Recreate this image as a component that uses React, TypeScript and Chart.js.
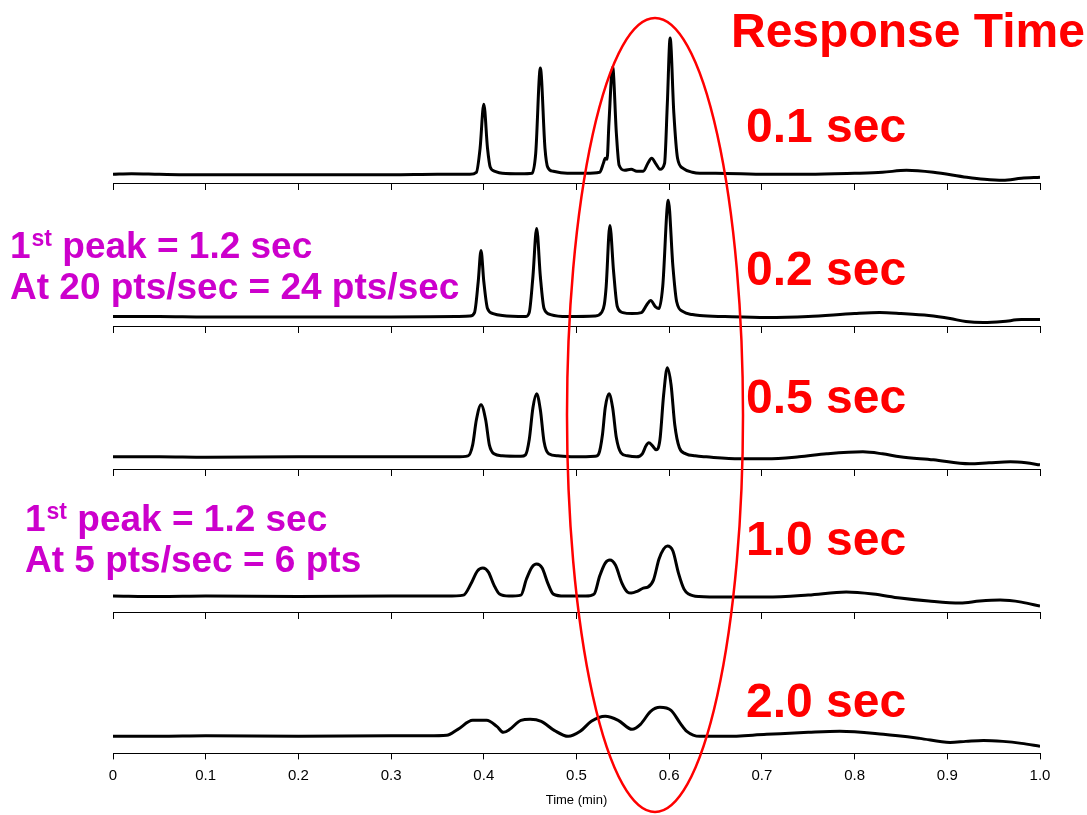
import React, { useEffect, useRef } from "react";
import { Chart, registerables } from "chart.js";

Chart.register(...registerables);

// ---------- data ----------
const TIME_TICKS = [0, 0.1, 0.2, 0.3, 0.4, 0.5, 0.6, 0.7, 0.8, 0.9, 1.0];
const TICK_LABELS = ["0", "0.1", "0.2", "0.3", "0.4", "0.5", "0.6", "0.7", "0.8", "0.9", "1.0"];
const X_TITLE = "Time (min)";

// [time (min), signal] — signal measured above each trace's own axis
const TRACE_0_1: [number, number][] = [
  [0, 9], [0.02, 9.5], [0.05, 9], [0.1, 8.5], [0.2, 8.5], [0.3, 8.5], [0.35, 9], [0.385, 9],
  [0.392, 11], [0.396, 35], [0.4, 79], [0.404, 35], [0.407, 16], [0.412, 12], [0.42, 10],
  [0.44, 9.5], [0.452, 10], [0.456, 30], [0.461, 115], [0.466, 35], [0.469, 16], [0.475, 12],
  [0.49, 10], [0.51, 10], [0.525, 11], [0.529, 20], [0.531, 25], [0.533, 24], [0.535, 60],
  [0.539, 116], [0.543, 50], [0.546, 18], [0.552, 13], [0.559, 14], [0.565, 12], [0.572, 12],
  [0.577, 20], [0.581, 25], [0.586, 19], [0.59, 14], [0.595, 20], [0.598, 80], [0.601, 145],
  [0.605, 70], [0.609, 25], [0.615, 15], [0.625, 11], [0.633, 10], [0.65, 10], [0.705, 9],
  [0.75, 9], [0.8, 10], [0.83, 11], [0.856, 13], [0.885, 11], [0.921, 6], [0.94, 4],
  [0.96, 3], [0.98, 5], [1.0, 6],
];
const TRACE_0_2: [number, number][] = [
  [0, 10], [0.05, 10], [0.1, 9.5], [0.2, 9.5], [0.3, 9.5], [0.37, 10], [0.385, 10.5],
  [0.39, 14], [0.394, 45], [0.397, 76], [0.4, 45], [0.404, 18], [0.41, 13], [0.42, 11],
  [0.445, 10], [0.449, 14], [0.453, 50], [0.457, 98], [0.461, 50], [0.465, 18], [0.472, 12],
  [0.49, 10], [0.52, 10.5], [0.527, 14], [0.53, 22], [0.532, 40], [0.536, 101], [0.54, 55],
  [0.544, 20], [0.55, 14], [0.56, 13], [0.57, 14], [0.576, 22], [0.58, 26], [0.585, 20],
  [0.589, 18], [0.593, 40], [0.599, 126], [0.604, 60], [0.608, 25], [0.615, 15], [0.625, 12],
  [0.633, 11], [0.66, 10], [0.705, 9], [0.75, 10], [0.8, 13], [0.827, 14], [0.85, 13],
  [0.88, 11], [0.903, 8], [0.92, 5], [0.939, 4], [0.96, 5], [0.98, 7], [1.0, 7],
];
const TRACE_0_5: [number, number][] = [
  [0, 13], [0.05, 13], [0.1, 12.5], [0.2, 13], [0.3, 13], [0.37, 13], [0.383, 14], [0.388, 25],
  [0.392, 50], [0.397, 65], [0.402, 50], [0.406, 25], [0.411, 16], [0.42, 14], [0.44, 13.5],
  [0.445, 15], [0.449, 30], [0.453, 62], [0.457, 76], [0.461, 60], [0.465, 28], [0.47, 16],
  [0.48, 14], [0.5, 13], [0.52, 13.5], [0.524, 16], [0.528, 35], [0.531, 62], [0.535, 76],
  [0.539, 62], [0.543, 32], [0.548, 17], [0.555, 14], [0.565, 13], [0.571, 16], [0.575, 24],
  [0.578, 27], [0.582, 24], [0.586, 20], [0.59, 30], [0.594, 75], [0.598, 102], [0.602, 85],
  [0.606, 45], [0.611, 22], [0.618, 16], [0.628, 14], [0.64, 13], [0.676, 11], [0.705, 11],
  [0.74, 13], [0.77, 16], [0.809, 18], [0.83, 16], [0.849, 13], [0.885, 10], [0.924, 6],
  [0.945, 7], [0.968, 8], [0.985, 7], [1.0, 5],
];
const TRACE_1_0: [number, number][] = [
  [0, 16], [0.05, 15.5], [0.1, 16], [0.2, 15.5], [0.3, 16], [0.36, 16], [0.378, 17], [0.386, 28],
  [0.393, 41], [0.399, 44], [0.405, 40], [0.411, 27], [0.417, 18], [0.427, 16], [0.44, 17],
  [0.446, 33], [0.452, 45], [0.457, 48], [0.463, 44], [0.469, 29], [0.475, 18], [0.487, 16],
  [0.51, 16], [0.519, 18], [0.525, 36], [0.531, 49], [0.536, 52], [0.542, 47], [0.549, 29],
  [0.555, 20], [0.559, 19], [0.566, 21], [0.572, 24], [0.577, 25], [0.583, 32], [0.589, 53],
  [0.594, 63], [0.598, 66], [0.604, 61], [0.61, 39], [0.616, 23], [0.621, 18], [0.632, 15.5],
  [0.66, 15], [0.705, 15], [0.75, 17], [0.791, 20], [0.82, 18], [0.849, 14], [0.88, 11],
  [0.914, 9], [0.935, 11], [0.957, 12], [0.98, 10], [1.0, 6],
];
const TRACE_2_0: [number, number][] = [
  [0, 17], [0.05, 17], [0.1, 17.5], [0.2, 17], [0.3, 17.5], [0.34, 17.5], [0.36, 18],
  [0.372, 24], [0.388, 33], [0.403, 33], [0.414, 27], [0.421, 21], [0.428, 24], [0.44, 33],
  [0.45, 34], [0.462, 32], [0.476, 23], [0.491, 17], [0.504, 22], [0.516, 32], [0.531, 37],
  [0.545, 33], [0.56, 24], [0.569, 29], [0.58, 42], [0.59, 46], [0.602, 43], [0.612, 30],
  [0.619, 22], [0.633, 17], [0.66, 17], [0.705, 19], [0.75, 21], [0.784, 22], [0.831, 19],
  [0.87, 15], [0.903, 11], [0.92, 12], [0.939, 13], [0.96, 12], [0.98, 10], [1.0, 7],
];

const TRACES = [TRACE_0_1, TRACE_0_2, TRACE_0_5, TRACE_1_0, TRACE_2_0];
const RESPONSE_TITLE = "Response Time";
const RESPONSE_LABELS = ["0.1 sec", "0.2 sec", "0.5 sec", "1.0 sec", "2.0 sec"];
const NOTE_TOP = { lead: "1", sup: "st", rest: " peak = 1.2 sec", line2: "At 20 pts/sec = 24 pts/sec" };
const NOTE_BOTTOM = { lead: "1", sup: "st", rest: " peak = 1.2 sec", line2: "At 5 pts/sec = 6 pts" };

// ---------- layout ----------
const W = 1087;
const H = 815;
const PANEL_BASE = [569, 426, 283, 141, 0]; // y-value of each trace's axis line
const Y_MAX = 742;
const FONT = "'Liberation Sans', Arial, Helvetica, sans-serif";
const RED = "#ff0000";
const MAGENTA = "#cc00cc";
const LABEL_X = 746;
const LABEL_BASELINES = [142, 285, 413, 555, 717];

const overlayPlugin = {
  id: "overlay",
  afterDraw(chart: any) {
    const ctx = chart.ctx as CanvasRenderingContext2D;
    ctx.save();
    // red ellipse
    ctx.beginPath();
    ctx.ellipse(655, 415, 88, 397, 0, 0, Math.PI * 2);
    ctx.strokeStyle = RED;
    ctx.lineWidth = 2.5;
    ctx.stroke();

    ctx.textBaseline = "alphabetic";
    ctx.textAlign = "left";
    ctx.fillStyle = RED;
    ctx.font = `bold 48px ${FONT}`;
    ctx.fillText(RESPONSE_TITLE, 731, 47);
    RESPONSE_LABELS.forEach((t, i) => ctx.fillText(t, LABEL_X, LABEL_BASELINES[i]));

    const drawNote = (note: any, x: number, y1: number, y2: number) => {
      ctx.fillStyle = MAGENTA;
      ctx.font = `bold 37px ${FONT}`;
      ctx.fillText(note.lead, x, y1);
      let cx = x + ctx.measureText(note.lead).width;
      ctx.font = `bold 23px ${FONT}`;
      ctx.fillText(note.sup, cx + 1, y1 - 12);
      cx += ctx.measureText(note.sup).width + 1;
      ctx.font = `bold 37px ${FONT}`;
      ctx.fillText(note.rest, cx, y1);
      ctx.fillText(note.line2, x, y2);
    };
    drawNote(NOTE_TOP, 10, 258, 299);
    drawNote(NOTE_BOTTOM, 25, 531, 572);
    ctx.restore();
  },
};

export default function App() {
  const ref = useRef<HTMLCanvasElement>(null);
  useEffect(() => {
    if (!ref.current) return;
    const datasets = TRACES.map((tr, i) => ({
      label: RESPONSE_LABELS[i],
      data: tr.map(([x, y]) => ({ x, y: y + PANEL_BASE[i] })),
      borderColor: "#000",
      borderWidth: 3,
      pointRadius: 0,
      fill: false,
      cubicInterpolationMode: "monotone" as const,
      xAxisID: "x",
      yAxisID: "y",
    }));
    const panelAxis = (i: number) => ({
      type: "linear" as const,
      axis: "x" as const,
      position: { y: PANEL_BASE[i] },
      min: 0,
      max: 1,
      afterBuildTicks: (s: any) => { s.ticks = TIME_TICKS.map((v) => ({ value: v })); },
      ticks: { display: false },
      grid: { drawOnChartArea: false, drawTicks: true, tickLength: 6, color: "#000", lineWidth: 1 },
      border: { display: true, color: "#000", width: 1 },
    });
    const chart = new Chart(ref.current, {
      type: "line",
      data: { datasets },
      options: {
        animation: false,
        responsive: false,
        devicePixelRatio: 1,
        layout: { padding: { left: 113, right: 47, top: 10, bottom: 7 } },
        plugins: { legend: { display: false }, tooltip: { enabled: false } },
        scales: {
          x: {
            type: "linear",
            position: "bottom",
            min: 0,
            max: 1,
            afterBuildTicks: (s: any) => { s.ticks = TIME_TICKS.map((v) => ({ value: v })); },
            ticks: {
              callback: (_v: any, idx: number) => TICK_LABELS[idx],
              font: { family: FONT, size: 15 },
              color: "#000",
              padding: 7,
              maxRotation: 0,
              autoSkip: false,
            },
            grid: { drawOnChartArea: false, drawTicks: true, tickLength: 6, color: "#000", lineWidth: 1 },
            border: { display: true, color: "#000", width: 1 },
            title: {
              display: true,
              text: X_TITLE,
              font: { family: FONT, size: 13 },
              color: "#000",
              padding: { top: 1, bottom: 0 },
            },
          },
          xp0: panelAxis(0),
          xp1: panelAxis(1),
          xp2: panelAxis(2),
          xp3: panelAxis(3),
          y: { type: "linear", display: false, min: 0, max: Y_MAX },
        } as any,
      },
      plugins: [overlayPlugin],
    });
    return () => chart.destroy();
  }, []);
  return (
    <div style={{ position: "absolute", left: 0, top: 0, width: W, height: H, background: "#fff" }}>
      <canvas ref={ref} width={W} height={H} style={{ display: "block" }} />
    </div>
  );
}
